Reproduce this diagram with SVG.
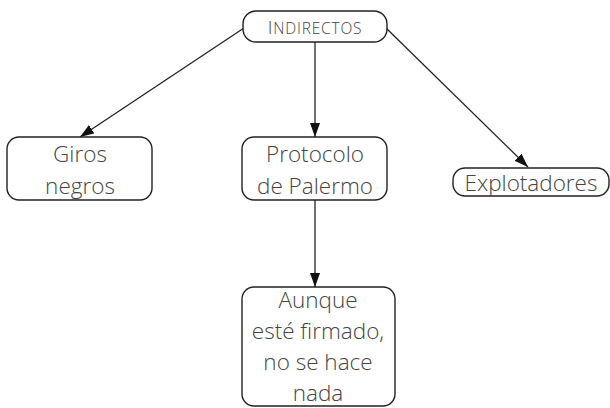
<svg xmlns="http://www.w3.org/2000/svg" width="610" height="408" viewBox="0 0 610 408">
<style>
.box{fill:#fff;stroke:#222;stroke-width:1.4}
.t{font-family:"Open Sans","Liberation Sans",sans-serif;font-weight:300;font-size:22.5px;fill:#444;text-anchor:middle}
.c{stroke:#222;stroke-width:1.3;fill:none;marker-end:url(#ah)}
</style>
<defs>
<marker id="ah" viewBox="0 0 14 10" refX="14" refY="5" markerWidth="14" markerHeight="10" markerUnits="userSpaceOnUse" orient="auto">
<path d="M0,0 L14,5 L0,10 z" fill="#111"/>
</marker>
</defs>
<g id="connectors">
<path class="c" d="M247,26 L80,137"/>
<path class="c" d="M315,42 L315,137"/>
<path class="c" d="M385,27 L528,167"/>
<path class="c" d="M315,200 L315,287"/>
</g>
<g id="indirectos">
<rect class="box" x="243" y="11" width="144" height="31" rx="13" stroke-width="2.2"/>
<text class="t" x="315" y="34" letter-spacing="0.8"><tspan font-size="19">I</tspan><tspan font-size="15.5">NDIRECTOS</tspan></text>
</g>
<g id="giros">
<rect class="box" x="7" y="137" width="145" height="63" rx="12"/>
<text class="t" x="80" y="162">Giros</text>
<text class="t" x="80" y="194">negros</text>
</g>
<g id="protocolo">
<rect class="box" x="242" y="137" width="145" height="63" rx="12"/>
<text class="t" x="315" y="162">Protocolo</text>
<text class="t" x="315" y="194">de Palermo</text>
</g>
<g id="explotadores">
<rect class="box" x="453" y="168" width="156" height="28" rx="12"/>
<text class="t" x="531" y="191">Explotadores</text>
</g>
<g id="aunque">
<rect class="box" x="242" y="287" width="153" height="119" rx="12"/>
<text class="t" x="318" y="308">Aunque</text>
<text class="t" x="318" y="339">esté firmado,</text>
<text class="t" x="318" y="370">no se hace</text>
<text class="t" x="318" y="401">nada</text>
</g>
</svg>
